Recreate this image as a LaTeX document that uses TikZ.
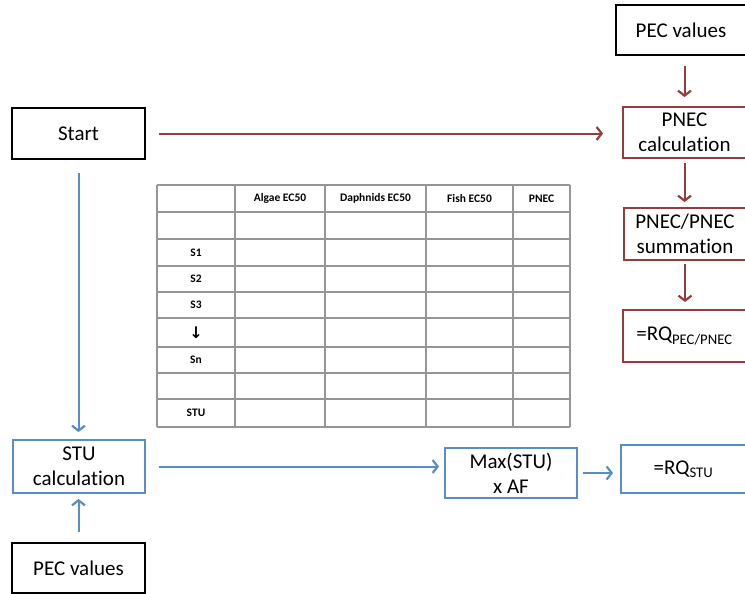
\documentclass[tikz,border=0pt]{standalone}
\usepackage{fontspec}
\setmainfont{Carlito}[Ligatures=NoCommon]
\newfontfamily\symfont{DejaVu Sans}
\usetikzlibrary{arrows.meta}
\definecolor{dred}{RGB}{150,60,58}
\definecolor{lblue}{RGB}{90,140,200}
\definecolor{tgray}{RGB}{150,150,150}
\tikzset{
  boxk/.style={draw=black,line width=2.4pt,fill=white,inner sep=2pt,align=center,font=\fontsize{21}{25}\selectfont},
  boxr/.style={draw=dred,line width=1.9pt,fill=white,inner sep=2pt,align=center,font=\fontsize{21}{25}\selectfont},
  boxb/.style={draw=lblue,line width=1.9pt,fill=white,inner sep=2pt,align=center,font=\fontsize{21}{25}\selectfont},
  arr/.style={-{Straight Barb[length=5pt,width=13pt,line width=2.2pt]},line width=2pt},
  rarr/.style={arr,draw=dred},
  barr/.style={arr,draw=lblue},
  tline/.style={draw=tgray,line width=1.6pt},
  thead/.style={font=\bfseries\fontsize{11.5}{12}\selectfont},
}
\begin{document}
\begin{tikzpicture}[x=1pt,y=-1pt]
\useasboundingbox (0,0) rectangle (745,594);
% left column
\node[boxk,minimum width=133pt,minimum height=51pt] (start) at (78.5,133.5) {Start};
\node[boxb,minimum width=132pt,minimum height=53pt] (stu) at (79,466.5) {STU\\calculation};
\node[boxk,minimum width=133pt,minimum height=50pt] (pecb) at (78.5,568) {PEC values};
% right column
\node[boxk,minimum width=130pt,minimum height=50pt] (pect) at (681,30) {PEC values};
\node[boxr,minimum width=123pt,minimum height=51pt] (pnec) at (684.5,132.5) {PNEC\\calculation};
\node[boxr,minimum width=122pt,minimum height=52pt] (sum) at (685,234) {PNEC/PNEC\\summation};
\node[boxr,minimum width=123pt,minimum height=52pt] (rqp) at (684.5,336) {=RQ\textsubscript{PEC/PNEC}};
% bottom row
\node[boxb,minimum width=132pt,minimum height=50pt] (max) at (511,473) {Max(STU)\\x AF};
\node[boxb,minimum width=125pt,minimum height=48pt] (rqs) at (683.5,469) {=RQ\textsubscript{STU}};
% red arrows
\draw[rarr,shorten <=13pt,shorten >=19pt] (start.east) -- (pnec.west |- start.east);
\draw[rarr,shorten <=10pt,shorten >=9pt] (pect.south -| pnec.north) -- (pnec.north);
\draw[rarr,shorten <=4pt,shorten >=5pt] (pnec.south) -- (sum.north -| pnec.south);
\draw[rarr,shorten <=3pt,shorten >=7pt] (sum.south) -- (rqp.north -| sum.south);
% blue arrows
\draw[barr,shorten <=13pt,shorten >=7pt] (start.south) -- (stu.north -| start.south);
\draw[barr,shorten <=10pt,shorten >=5pt] (pecb.north) -- (stu.south -| pecb.north);
\draw[barr,shorten <=13pt,shorten >=5pt] (stu.east) -- (max.west |- stu.east);
\draw[barr,shorten <=5pt,shorten >=7pt] (max.east) -- (rqs.west |- max.east);
% table
\foreach \y in {185,212,239,266,292,318,347,373,399,427}
  \draw[tline] (157,\y) -- (570,\y);
\foreach \x in {157,235,325,426,513,570}
  \draw[tline] (\x,185) -- (\x,427);
\node[thead] (h1) at (280,198.5) {Algae EC50};
\node[thead] (h2) at (375.5,198.5) {Daphnids EC50};
\node[thead] (h3) at (469.5,198.5) {Fish EC50};
\node[thead] (h4) at (541.5,198.5) {PNEC};
\node[thead] (r1) at (196,252.5) {S1};
\node[thead] (r2) at (196,279) {S2};
\node[thead] (r3) at (196,305) {S3};
\node[thead] (r4) at (196,332.5) {\symfont\fontsize{16}{16}\selectfont ↓};
\node[thead] (r5) at (196,360) {Sn};
\node[thead] (r6) at (196,413) {STU};
\end{tikzpicture}
\end{document}
